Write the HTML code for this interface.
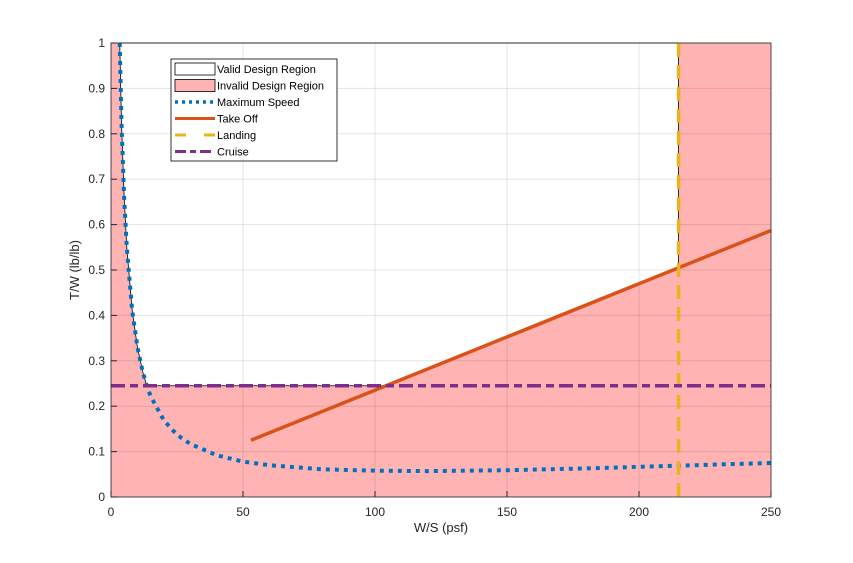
<!DOCTYPE html>
<html><head><meta charset="utf-8"><style>
body{margin:0;background:#fff;font-family:"Liberation Sans",sans-serif}
svg text{font-family:"Liberation Sans",sans-serif}
</style></head><body>
<svg id="c" width="853" height="558"></svg>
<script>
const wsPts=[3.3,4,5,6,8,10,12,13.5,15,20,25,30,40,50,60,80,100,120,150,180,215,250];
const maxSpeed=[1.0,0.82,0.657,0.548,0.412,0.33,0.276,0.246,0.222,0.169,0.137,0.117,0.092,0.078,0.070,0.061,0.058,0.057,0.059,0.063,0.069,0.075];
const takeoffWs=[53,250];
const takeoffTw=[0.125,0.587];
const landingWs=215;
const cruiseTw=0.245;
const xTicks=[0,50,100,150,200,250];
const yTicks=[0,0.1,0.2,0.3,0.4,0.5,0.6,0.7,0.8,0.9,1];
const yTickLabels=["0","0.1","0.2","0.3","0.4","0.5","0.6","0.7","0.8","0.9","1"];

const L=111,R=771,T=43,B=497;
const sx=v=>L+(v-0)/250*(R-L);
const sy=v=>B-(v-0)/1*(B-T);
const svg=document.getElementById('c');
const NS='http://www.w3.org/2000/svg';
function mk(tag,attrs,parent){const e=document.createElementNS(NS,tag);for(const k in attrs)e.setAttribute(k,attrs[k]);(parent||svg).appendChild(e);return e;}

let bg=mk('rect',{x:L,y:T,width:R-L,height:B-T,fill:'#ffb3b3'});



function curveAt(tw){for(let i=0;i<maxSpeed.length-1;i++){const a=maxSpeed[i],b=maxSpeed[i+1];if((a-tw)*(b-tw)<=0){const t=(tw-a)/(b-a);return wsPts[i]+t*(wsPts[i+1]-wsPts[i]);}}return wsPts[0];}
const toSlope=(takeoffTw[1]-takeoffTw[0])/(takeoffWs[1]-takeoffWs[0]);
const toAt=ws=>takeoffTw[0]+toSlope*(ws-takeoffWs[0]);
const toCross=takeoffWs[0]+(cruiseTw-takeoffTw[0])/toSlope;
const cx=curveAt(cruiseTw);
let pts=[];
for(let i=0;i<wsPts.length;i++){if(maxSpeed[i]>=cruiseTw)pts.push([sx(wsPts[i]),sy(maxSpeed[i])]);}
pts.push([sx(cx),sy(cruiseTw)]);
pts.push([sx(toCross),sy(cruiseTw)]);
pts.push([sx(landingWs),sy(toAt(landingWs))]);
pts.push([sx(landingWs),sy(1)]);
pts.push([sx(wsPts[0]),sy(1)]);
let vr=mk('polygon',{points:pts.map(p=>p.join(',')).join(' '),fill:'#fff',stroke:'#000','stroke-width':0.8});



xTicks.forEach(v=>{let g=mk('line',{x1:sx(v),x2:sx(v),y1:T,y2:B,stroke:'#000','stroke-opacity':0.1});});
yTicks.forEach(v=>{let g=mk('line',{x1:L,x2:R,y1:sy(v),y2:sy(v),stroke:'#000','stroke-opacity':0.1});});

let ms=mk('polyline',{points:wsPts.map((w,i)=>sx(w)+','+sy(maxSpeed[i])).join(' '),fill:'none',stroke:'#0072bd','stroke-width':4,'stroke-dasharray':'4,5'});


let to=mk('line',{x1:sx(takeoffWs[0]),y1:sy(takeoffTw[0]),x2:sx(takeoffWs[1]),y2:sy(takeoffTw[1]),stroke:'#d95319','stroke-width':3.5});


let ld=mk('line',{x1:sx(landingWs),y1:T,x2:sx(landingWs),y2:B,stroke:'#edb120','stroke-width':3.5,'stroke-dasharray':'14,8'});


let cr=mk('line',{x1:L,y1:sy(cruiseTw),x2:R,y2:sy(cruiseTw),stroke:'#7e2f8e','stroke-width':3.5,'stroke-dasharray':'14,5,8,5'});



let ax=mk('rect',{x:L,y:T,width:R-L,height:B-T,fill:'none',stroke:'#262626','stroke-width':0.8});


xTicks.forEach(v=>{mk('line',{x1:sx(v),x2:sx(v),y1:B,y2:B-6,stroke:'#262626'});let t=mk('text',{x:sx(v),y:B+19,'text-anchor':'middle','font-size':12,fill:'#262626'});t.textContent=v;});
yTicks.forEach((v,i)=>{mk('line',{x1:L,x2:L+6,y1:sy(v),y2:sy(v),stroke:'#262626'});let t=mk('text',{x:L-6,y:sy(v)+4,'text-anchor':'end','font-size':12,fill:'#262626'});t.textContent=yTickLabels[i];});
let xt=mk('text',{x:(L+R)/2,y:532,'text-anchor':'middle','font-size':13,fill:'#262626'});xt.textContent='W/S (psf)';


let yt=mk('text',{x:0,y:0,'text-anchor':'middle','font-size':13,fill:'#262626',transform:`translate(79,${(T+B)/2}) rotate(-90)`});yt.textContent='T/W (lb/lb)';



const lg=mk('g',{});


mk('rect',{x:171,y:59,width:166,height:102,fill:'#fff',stroke:'#000','stroke-width':0.8},lg);
const names=['Valid Design Region','Invalid Design Region','Maximum Speed','Take Off','Landing','Cruise'];
names.forEach((n,i)=>{
  const y=69+i*16.5;
  if(i===0)mk('rect',{x:175,y:y-6,width:40,height:12,fill:'#fff',stroke:'#000','stroke-width':0.8},lg);
  if(i===1)mk('rect',{x:175,y:y-6,width:40,height:12,fill:'#ffb3b3',stroke:'#000','stroke-width':0.8},lg);
  if(i===2)mk('line',{x1:175,x2:215,y1:y,y2:y,stroke:'#0072bd','stroke-width':3.5,'stroke-dasharray':'3,4'},lg);
  if(i===3)mk('line',{x1:175,x2:215,y1:y,y2:y,stroke:'#d95319','stroke-width':3},lg);
  if(i===4)mk('line',{x1:175,x2:215,y1:y,y2:y,stroke:'#edb120','stroke-width':3,'stroke-dasharray':'11,18'},lg);
  if(i===5)mk('line',{x1:175,x2:215,y1:y,y2:y,stroke:'#7e2f8e','stroke-width':3,'stroke-dasharray':'11,4,6,4'},lg);
  const t=mk('text',{x:217,y:y+4,'font-size':11,fill:'#000'},lg);t.textContent=n;
  
  
});
</script>
</body></html>
